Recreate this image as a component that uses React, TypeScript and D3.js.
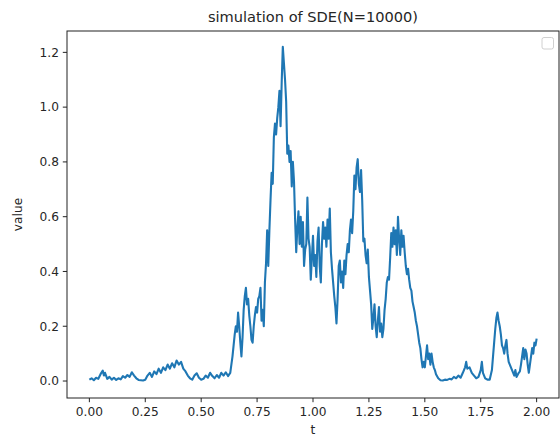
import React from "react";
import * as d3 from "d3";

const TITLE = "simulation of SDE(N=10000)";
const X_LABEL = "t";
const Y_LABEL = "value";
const X_TICKS = [0, 0.25, 0.5, 0.75, 1.0, 1.25, 1.5, 1.75, 2.0];
const Y_TICKS = [0, 0.2, 0.4, 0.6, 0.8, 1.0, 1.2];

const tValues = [
  0.0, 0.01, 0.02, 0.03, 0.04, 0.05, 0.06, 0.065, 0.07, 0.08, 0.09, 0.1, 0.11, 0.12, 0.13, 0.14, 0.15, 0.16, 0.17, 0.18, 0.19,
  0.2, 0.21, 0.22, 0.23, 0.24, 0.25, 0.26, 0.27, 0.28, 0.29, 0.3, 0.31, 0.32, 0.33, 0.34, 0.35, 0.36, 0.37, 0.38, 0.39,
  0.4, 0.41, 0.42, 0.43, 0.44, 0.45, 0.46, 0.47, 0.48, 0.49, 0.5, 0.51, 0.52, 0.53, 0.54, 0.55, 0.56, 0.57, 0.58, 0.59,
  0.6, 0.61, 0.62, 0.63, 0.635, 0.64, 0.645, 0.65, 0.655, 0.66, 0.665, 0.67, 0.675, 0.68, 0.685, 0.69, 0.695,
  0.7, 0.705, 0.71, 0.715, 0.72, 0.725, 0.73, 0.735, 0.74, 0.745, 0.75, 0.755, 0.76, 0.765, 0.77, 0.775, 0.78, 0.785, 0.79, 0.795,
  0.8, 0.805, 0.81, 0.815, 0.82, 0.825, 0.83, 0.835, 0.84, 0.845, 0.85, 0.855, 0.86, 0.865, 0.87, 0.875, 0.88, 0.885, 0.89, 0.895,
  0.9, 0.905, 0.91, 0.915, 0.92, 0.925, 0.93, 0.935, 0.94, 0.945, 0.95, 0.955, 0.96, 0.965, 0.97, 0.975, 0.98, 0.985, 0.99, 0.995,
  1.0, 1.005, 1.01, 1.015, 1.02, 1.025, 1.03, 1.035, 1.04, 1.045, 1.05, 1.055, 1.06, 1.065, 1.07, 1.075, 1.08, 1.085, 1.09, 1.095,
  1.1, 1.105, 1.11, 1.115, 1.12, 1.125, 1.13, 1.135, 1.14, 1.145, 1.15, 1.155, 1.16, 1.165, 1.17, 1.175, 1.18, 1.185, 1.19, 1.195,
  1.2, 1.205, 1.21, 1.215, 1.22, 1.225, 1.23, 1.235, 1.24, 1.245, 1.25, 1.255, 1.26, 1.265, 1.27, 1.275, 1.28, 1.285, 1.29, 1.295,
  1.3, 1.305, 1.31, 1.315, 1.32, 1.325, 1.33, 1.335, 1.34, 1.345, 1.35, 1.355, 1.36, 1.365, 1.37, 1.375, 1.38, 1.385, 1.39, 1.395,
  1.4, 1.405, 1.41, 1.415, 1.42, 1.425, 1.43, 1.435, 1.44, 1.445, 1.45, 1.455, 1.46, 1.465, 1.47, 1.475, 1.48, 1.485, 1.49, 1.495,
  1.5, 1.505, 1.51, 1.515, 1.52, 1.525, 1.53, 1.535, 1.54, 1.545, 1.55, 1.56, 1.57, 1.58, 1.59,
  1.6, 1.61, 1.62, 1.63, 1.64, 1.65, 1.66, 1.67, 1.68, 1.685, 1.69, 1.7, 1.71, 1.72, 1.73, 1.74, 1.75, 1.755, 1.76, 1.77, 1.78, 1.79,
  1.8, 1.805, 1.81, 1.815, 1.82, 1.825, 1.83, 1.835, 1.84, 1.845, 1.85, 1.855, 1.86, 1.865, 1.87, 1.875, 1.88, 1.89,
  1.9, 1.905, 1.91, 1.92, 1.925, 1.93, 1.935, 1.94, 1.945, 1.95, 1.955, 1.96, 1.965, 1.97, 1.975, 1.98, 1.985, 1.99, 1.995, 2.0,
];

const xValues = [
  0.005, 0.01, 0.003, 0.012, 0.008, 0.025, 0.038, 0.02, 0.03, 0.008, 0.015, 0.005, 0.012, 0.004, 0.01, 0.006, 0.018, 0.012, 0.022, 0.015, 0.032,
  0.02, 0.01, 0.004, 0.003, 0.002, 0.005, 0.02, 0.03, 0.015, 0.035, 0.025, 0.045, 0.03, 0.05, 0.04, 0.06, 0.045, 0.065, 0.05, 0.075,
  0.06, 0.07, 0.045, 0.035, 0.02, 0.01, 0.005, 0.02, 0.028, 0.012, 0.005, 0.008, 0.02, 0.012, 0.03, 0.018, 0.01, 0.022, 0.012, 0.03,
  0.02, 0.032, 0.018, 0.03, 0.06, 0.09, 0.13, 0.17, 0.2, 0.18, 0.25, 0.2, 0.14, 0.09, 0.16, 0.26, 0.31,
  0.34, 0.28, 0.3, 0.24, 0.2, 0.15, 0.14, 0.2, 0.24, 0.27, 0.25, 0.3, 0.31, 0.34, 0.22, 0.26, 0.2, 0.36, 0.43, 0.55,
  0.42, 0.55, 0.66, 0.76, 0.72, 0.89, 0.94, 0.9, 0.96, 1.0, 1.06, 0.93, 1.09, 1.22, 1.16, 1.1, 1.02, 0.83, 0.86, 0.8,
  0.84, 0.71, 0.8, 0.73, 0.59, 0.47, 0.56, 0.62, 0.5, 0.6, 0.49, 0.58, 0.42, 0.48, 0.5, 0.67, 0.52, 0.49, 0.37, 0.45,
  0.53, 0.42, 0.46, 0.38, 0.51, 0.56, 0.42, 0.36, 0.5, 0.58, 0.52, 0.56, 0.49, 0.59, 0.52, 0.63, 0.47, 0.41, 0.36, 0.31,
  0.27, 0.21, 0.3, 0.42, 0.44, 0.36, 0.4, 0.34, 0.44, 0.39, 0.46, 0.5, 0.47, 0.55, 0.59, 0.54, 0.62, 0.75, 0.7, 0.78,
  0.81, 0.72, 0.69, 0.77, 0.66, 0.51, 0.52, 0.46, 0.43, 0.48, 0.38, 0.33, 0.28, 0.19, 0.23, 0.28, 0.2, 0.16, 0.22, 0.27,
  0.18, 0.21, 0.16, 0.19, 0.26, 0.3, 0.36, 0.38, 0.37, 0.45, 0.54, 0.49, 0.56, 0.5, 0.55, 0.46, 0.6, 0.52, 0.46, 0.55,
  0.49, 0.53, 0.47, 0.42, 0.39, 0.41, 0.37, 0.34, 0.33, 0.29, 0.27, 0.25, 0.22, 0.2, 0.17, 0.14, 0.12, 0.08, 0.05, 0.07,
  0.05, 0.09, 0.13, 0.08, 0.1, 0.06, 0.1, 0.07, 0.05, 0.04, 0.025, 0.01, 0.003, 0.002, 0.005,
  0.004, 0.008, 0.006, 0.015, 0.01, 0.02, 0.012, 0.03, 0.05, 0.07, 0.045, 0.05, 0.03, 0.02, 0.01, 0.015, 0.04, 0.07, 0.03, 0.01, 0.005, 0.005,
  0.04, 0.09, 0.14, 0.19, 0.23, 0.25, 0.22, 0.2, 0.17, 0.13, 0.12, 0.1, 0.13, 0.15, 0.1, 0.07, 0.06, 0.04,
  0.02, 0.04, 0.015, 0.03, 0.035, 0.06, 0.09, 0.12, 0.08, 0.115, 0.1, 0.06, 0.03, 0.06, 0.09, 0.12, 0.1, 0.14, 0.13, 0.155,
];

const W = 560;
const H = 441;
const M = { left: 67, right: 559, top: 31, bottom: 398 };
const FONT = "'DejaVu Sans', sans-serif";
const TEXT = "#262626";
const LINE = "#1f77b4";

export default function App() {
  const x = d3.scaleLinear().domain([-0.1, 2.1]).range([M.left, M.right]);
  const y = d3.scaleLinear().domain([-0.062, 1.278]).range([M.bottom, M.top]);
  const pts: [number, number][] = tValues.map((t, i) => [t, xValues[i]]);
  const line = d3
    .line<[number, number]>()
    .x((d) => x(d[0]))
    .y((d) => y(d[1]));
  const tickLen = 4.2;
  return (
    <svg
      width={W}
      height={H}
      style={{ position: "absolute", left: 0, top: 0, background: "#fff" }}
      fontFamily={FONT}
    >
      <rect x={0} y={0} width={W} height={H} fill="#fff" />
      <path d={line(pts) || ""} fill="none" stroke={LINE} strokeWidth={2.1} strokeLinejoin="round" />
      <rect
        x={M.left}
        y={M.top}
        width={M.right - M.left}
        height={M.bottom - M.top}
        fill="none"
        stroke="#222"
        strokeWidth={1}
      />
      {X_TICKS.map((t) => (
        <g key={"x" + t}>
          <line x1={x(t)} x2={x(t)} y1={M.bottom} y2={M.bottom + tickLen} stroke="#222" strokeWidth={1} />
          <text x={x(t)} y={M.bottom + 18} textAnchor="middle" fontSize={12.2} fill={TEXT}>
            {t.toFixed(2)}
          </text>
        </g>
      ))}
      {Y_TICKS.map((v) => (
        <g key={"y" + v}>
          <line x1={M.left - tickLen} x2={M.left} y1={y(v)} y2={y(v)} stroke="#222" strokeWidth={1} />
          <text x={M.left - 8} y={y(v) + 4.3} textAnchor="end" fontSize={12.2} fill={TEXT}>
            {v.toFixed(1)}
          </text>
        </g>
      ))}
      <text x={(M.left + M.right) / 2} y={434} textAnchor="middle" fontSize={12.2} fill={TEXT}>
        {X_LABEL}
      </text>
      <text
        transform={`translate(22, ${(M.top + M.bottom) / 2}) rotate(-90)`}
        textAnchor="middle"
        fontSize={12.2}
        fill={TEXT}
      >
        {Y_LABEL}
      </text>
      <text x={(M.left + M.right) / 2} y={22} textAnchor="middle" fontSize={14.6} fill={TEXT}>
        {TITLE}
      </text>
      <rect x={542} y={37.5} width={11.5} height={11.5} rx={2} fill="#fff" stroke="#d0d0d0" strokeWidth={1} />
    </svg>
  );
}
